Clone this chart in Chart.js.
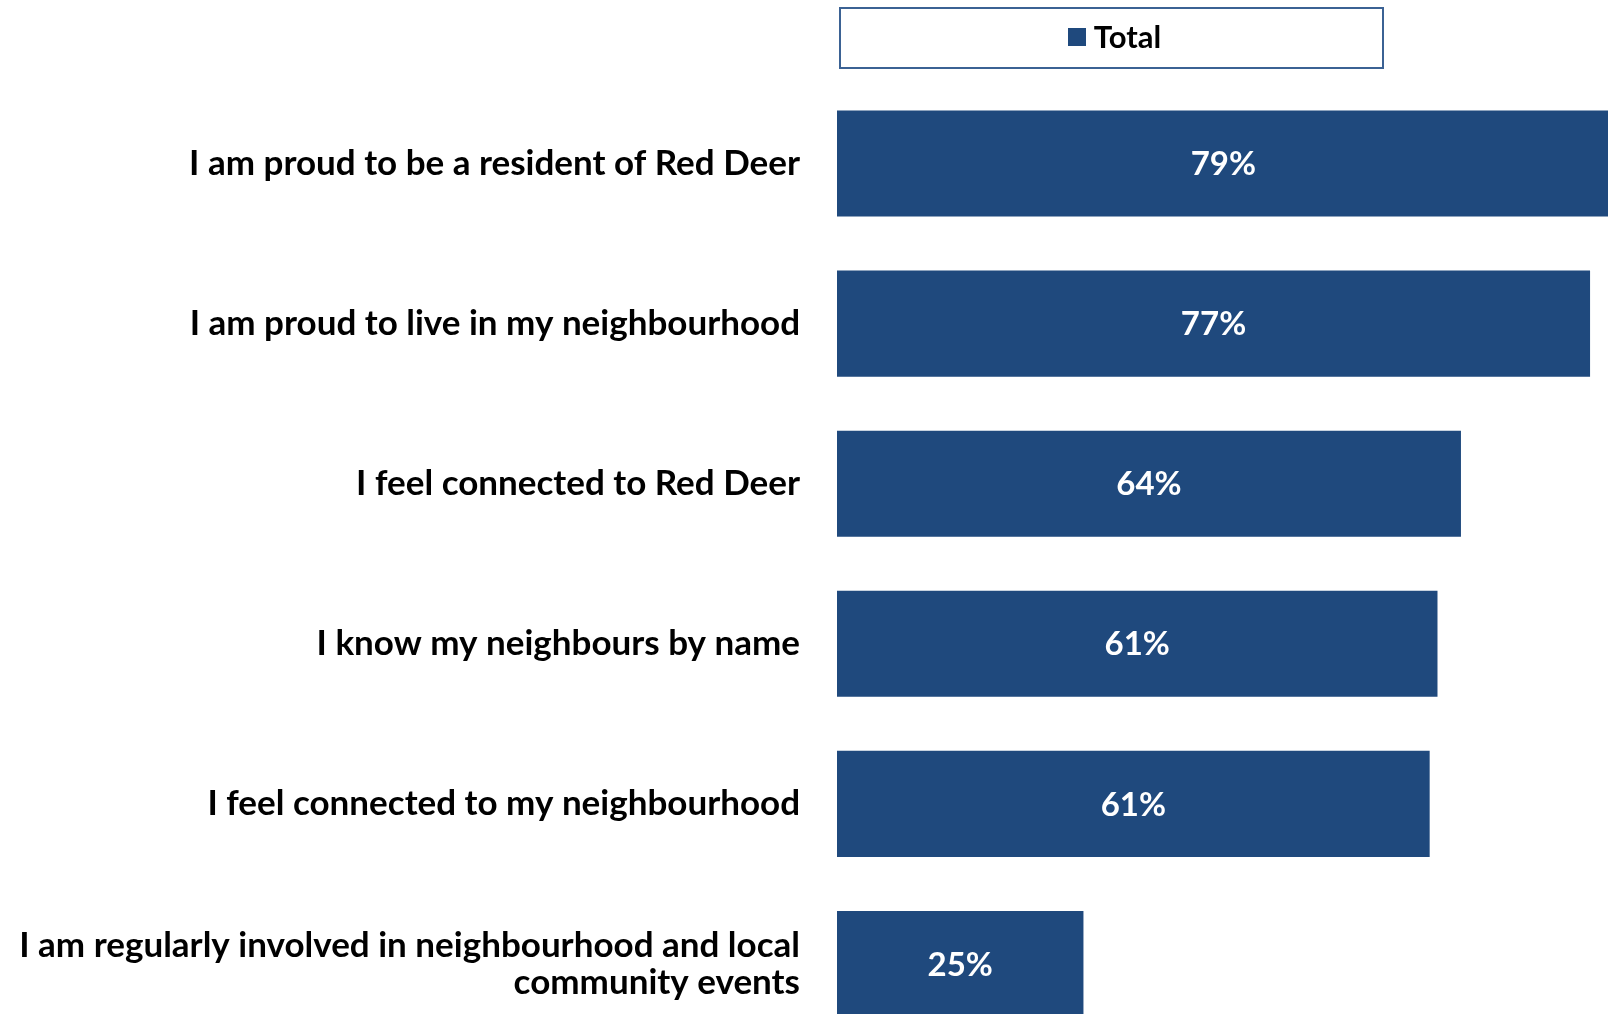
<!DOCTYPE html>
<html>
<head>
<meta charset="utf-8">
<script src="https://cdn.jsdelivr.net/npm/chart.js@4/dist/chart.umd.min.js"></script>
<style>
  html, body { margin: 0; padding: 0; background: #fff; overflow: hidden; }
  #wrap { position: relative; width: 1608px; height: 1014px; overflow: hidden; }
  #chart { position: absolute; left: 0; top: 0; }
  #legend {
    position: absolute; left: 839px; top: 7px; width: 541px; height: 58px;
    border: 2px solid #3b6294; box-sizing: content-box;
    display: flex; align-items: center; justify-content: center;
    font-family: Lato, "Open Sans", sans-serif; font-weight: bold; font-size: 31px; color: #000;
  }
  #legend .sw { width: 18px; height: 18px; background: #1f497d; margin-right: 8px; margin-left: 6px; margin-top: -2px; }
  #legend .tx { margin-top: -4px; }
</style>
</head>
<body>
<div id="wrap">
  <canvas id="chart" width="1815" height="1044"></canvas>
  <div id="legend"><span class="sw"></span><span class="tx">Total</span></div>
</div>
<script>
const categories = [
  'I am proud to be a resident of Red Deer',
  'I am proud to live in my neighbourhood',
  'I feel connected to Red Deer',
  'I know my neighbours by name',
  'I feel connected to my neighbourhood',
  ['I am regularly involved in neighbourhood and local', 'community events']
];
const totalValues = [79, 77, 63.8, 61.4, 60.6, 25.2];
const seriesName = 'Total';
const barColor = '#1f497d';

// white % labels centred in each bar
const barLabels = {
  id: 'barLabels',
  afterDatasetsDraw(chart) {
    const ctx = chart.ctx;
    const meta = chart.getDatasetMeta(0);
    ctx.save();
    ctx.fillStyle = '#fff';
    ctx.font = 'bold 33px Lato, "Open Sans", sans-serif';
    ctx.textAlign = 'center';
    ctx.textBaseline = 'middle';
    meta.data.forEach((bar, i) => {
      const v = chart.data.datasets[0].data[i];
      ctx.fillText(Math.round(v) + '%', (bar.x + bar.base) / 2, bar.y + 1);
    });
    ctx.restore();
  }
};

new Chart(document.getElementById('chart').getContext('2d'), {
  type: 'bar',
  data: {
    labels: categories,
    datasets: [{
      label: seriesName,
      data: totalValues,
      backgroundColor: barColor,
      borderWidth: 0,
      barPercentage: 0.6625,
      categoryPercentage: 1
    }]
  },
  options: {
    indexAxis: 'y',
    responsive: false,
    animation: false,
    devicePixelRatio: 1,
    layout: { padding: { top: 83.5, left: 0, right: 0, bottom: 0 } },
    plugins: { legend: { display: false }, tooltip: { enabled: false } },
    scales: {
      x: { min: 0, max: 100, display: false },
      y: {
        grid: { display: false, drawTicks: false },
        border: { display: false },
        afterFit(s) {
          s.width = 837;
          s.paddingTop = 0;
          s.paddingBottom = 0;
        },
        ticks: {
          padding: 37,
          color: '#000',
          font: { family: 'Lato, "Open Sans", sans-serif', weight: 'bold', size: 35, lineHeight: 1.06 }
        }
      }
    }
  },
  plugins: [barLabels]
});
</script>
</body>
</html>
